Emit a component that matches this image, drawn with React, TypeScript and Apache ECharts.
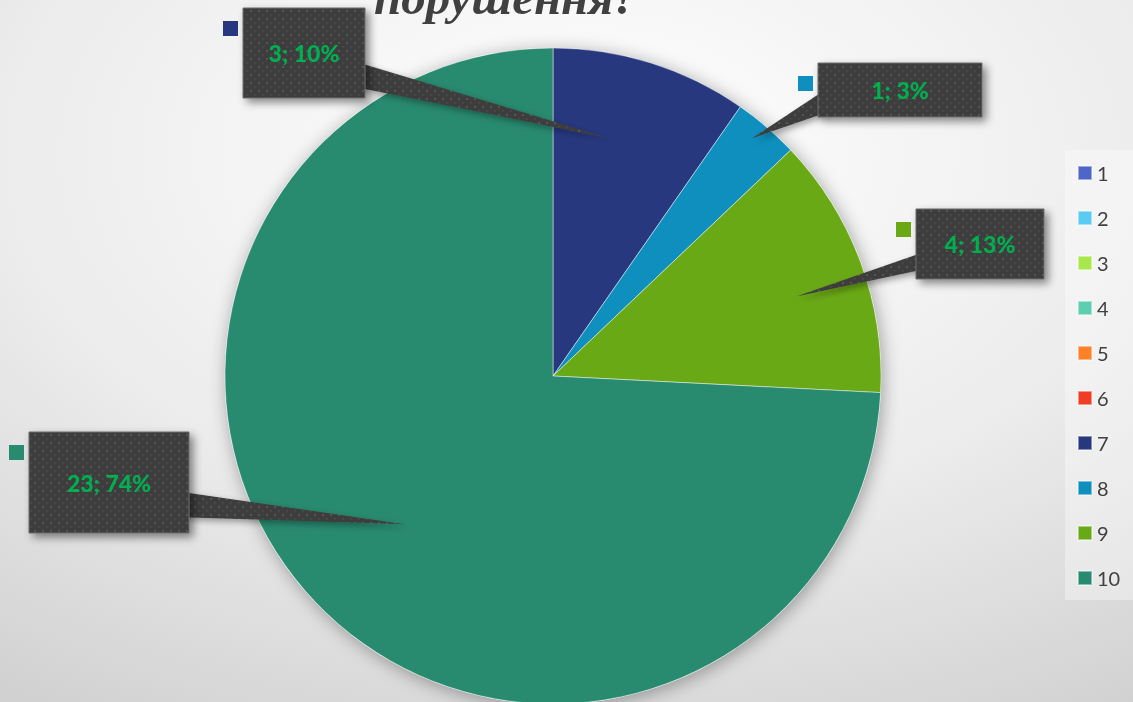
import React, { useEffect, useRef } from "react";
import * as echarts from "echarts";

const categories = ["1", "2", "3", "4", "5", "6", "7", "8", "9", "10"];
const values = [0, 0, 0, 0, 0, 0, 3, 1, 4, 23];
const colors = ["#4f66c8", "#5acbf2", "#a9e84d", "#5ccfae", "#fd8227", "#f03e26", "#27387e", "#0e8fbd", "#6aa916", "#288a6f"];
const titleText = "порушення?";

// callout layout (positions only): category index, box rect, wedge base points, tip radius fraction, tip angle offset (deg)
const calloutIndex = [6, 7, 8, 9];
const calloutBox = [
  [243, 8, 122, 90],
  [818, 63, 164, 54],
  [916, 209, 128, 70],
  [29, 432, 160, 101],
];
const calloutBase = [
  [[350, 60], [350, 86]],
  [[828, 88], [828, 112]],
  [[930, 250], [930, 268]],
  [[175, 491], [175, 517]],
];
const calloutTip = [0.745, 0.945, 0.78, 0.64];
const calloutTurn = [-4.4, -0.7, 2.2, -1.4];

const CX = 553;
const CY = 376;
const R = 328;

const tileSvg =
  "<svg xmlns='http://www.w3.org/2000/svg' width='8' height='8'>" +
  "<rect width='8' height='8' fill='#3e3e3e'/>" +
  "<rect x='2' y='2' width='2' height='2' fill='#555555'/>" +
  "<rect x='6' y='6' width='1.5' height='1.5' fill='#4e4e4e'/>" +
  "</svg>";
const tileUrl = "data:image/svg+xml;charset=utf-8," + encodeURIComponent(tileSvg);

export default function App() {
  const ref = useRef<HTMLDivElement>(null);
  useEffect(() => {
    if (!ref.current) return;
    const chart = echarts.init(ref.current, null, { renderer: "svg" });
    const sum = values.reduce((a, b) => a + b, 0);
    const starts: number[] = [];
    let acc = 0;
    values.forEach((v) => {
      starts.push(acc);
      acc += v;
    });

    const pattern: any = { image: tileUrl, repeat: "repeat", imageWidth: 8, imageHeight: 8 };

    const wedges: any[] = [];
    const boxes: any[] = [];
    calloutIndex.forEach((idx, k) => {
      const mid =
        ((starts[idx] + values[idx] / 2) / sum) * Math.PI * 2 + (calloutTurn[k] * Math.PI) / 180;
      const fr = calloutTip[k] * R;
      const tx = CX + fr * Math.sin(mid);
      const ty = CY - fr * Math.cos(mid);
      const b = calloutBase[k];
      wedges.push({
        type: "polygon",
        z: 10,
        shape: { points: [[tx, ty], b[0], b[1]] },
        style: {
          fill: pattern,
          shadowBlur: 6,
          shadowOffsetX: 3,
          shadowOffsetY: 3,
          shadowColor: "rgba(0,0,0,0.35)",
        },
        silent: true,
      });
      const [bx, by, bw, bh] = calloutBox[k];
      const pct = Math.round((values[idx] / sum) * 100);
      boxes.push({
        type: "rect",
        z: 11,
        shape: { x: bx, y: by, width: bw, height: bh },
        style: {
          fill: pattern,
          stroke: "#6a6a6a",
          lineWidth: 1,
          shadowBlur: 8,
          shadowOffsetX: 4,
          shadowOffsetY: 4,
          shadowColor: "rgba(0,0,0,0.45)",
        },
        silent: true,
      });
      boxes.push({
        type: "rect",
        z: 11,
        shape: { x: bx - 20, y: by + 13, width: 15, height: 15 },
        style: { fill: colors[idx] },
        silent: true,
      });
      boxes.push({
        type: "text",
        z: 12,
        x: bx + bw / 2,
        y: by + bh / 2,
        style: {
          text: values[idx] + "; " + pct + "%",
          fill: "#00b050",
          font: '900 23px Lato',
          align: "center",
          verticalAlign: "middle",
        },
        silent: true,
      });
    });

    chart.setOption({
      animation: false,
      backgroundColor: {
        type: "radial",
        x: 0.52,
        y: 0.22,
        r: 1.15,
        colorStops: [
          { offset: 0, color: "#ffffff" },
          { offset: 0.45, color: "#ececec" },
          { offset: 1, color: "#c2c2c2" },
        ],
      },
      legend: {
        orient: "vertical",
        left: 1065,
        top: 150,
        padding: [13, 14, 12, 12],
        itemWidth: 14,
        itemHeight: 14,
        itemGap: 25,
        icon: "rect",
        backgroundColor: "rgba(255,255,255,0.35)",
        data: categories,
        selectedMode: false,
        textStyle: { fontFamily: "Lato", fontSize: 20, lineHeight: 20, color: "#404040" },
      },
      graphic: {
        elements: [
          {
            type: "text",
            z: 10,
            x: 506,
            y: -3,
            style: {
              text: titleText,
              fill: "#404040",
              font: 'italic bold 49px "Liberation Serif"',
              align: "center",
              verticalAlign: "middle",
            },
            silent: true,
          },
          ...wedges,
          ...boxes,
        ],
      },
      series: [
        {
          type: "pie",
          name: "shadow",
          center: [CX, CY],
          radius: R,
          silent: true,
          label: { show: false },
          labelLine: { show: false },
          emphasis: { disabled: true },
          itemStyle: {
            color: "#ffffff",
            shadowBlur: 18,
            shadowOffsetX: 2,
            shadowOffsetY: 3,
            shadowColor: "rgba(0,0,0,0.35)",
          },
          data: [{ value: 1, name: "shadow" }],
        },
        {
          type: "pie",
          center: [CX, CY],
          radius: R,
          startAngle: 90,
          clockwise: true,
          silent: true,
          label: { show: false },
          labelLine: { show: false },
          emphasis: { disabled: true },
          itemStyle: { borderColor: "rgba(255,255,255,0.45)", borderWidth: 1 },
          data: categories.map((c, i) => ({
            name: c,
            value: values[i],
            itemStyle: { color: colors[i] },
          })),
        },
      ],
    });
    return () => chart.dispose();
  }, []);
  return <div ref={ref} style={{ position: "fixed", left: 0, top: 0, width: 1133, height: 702 }} />;
}
